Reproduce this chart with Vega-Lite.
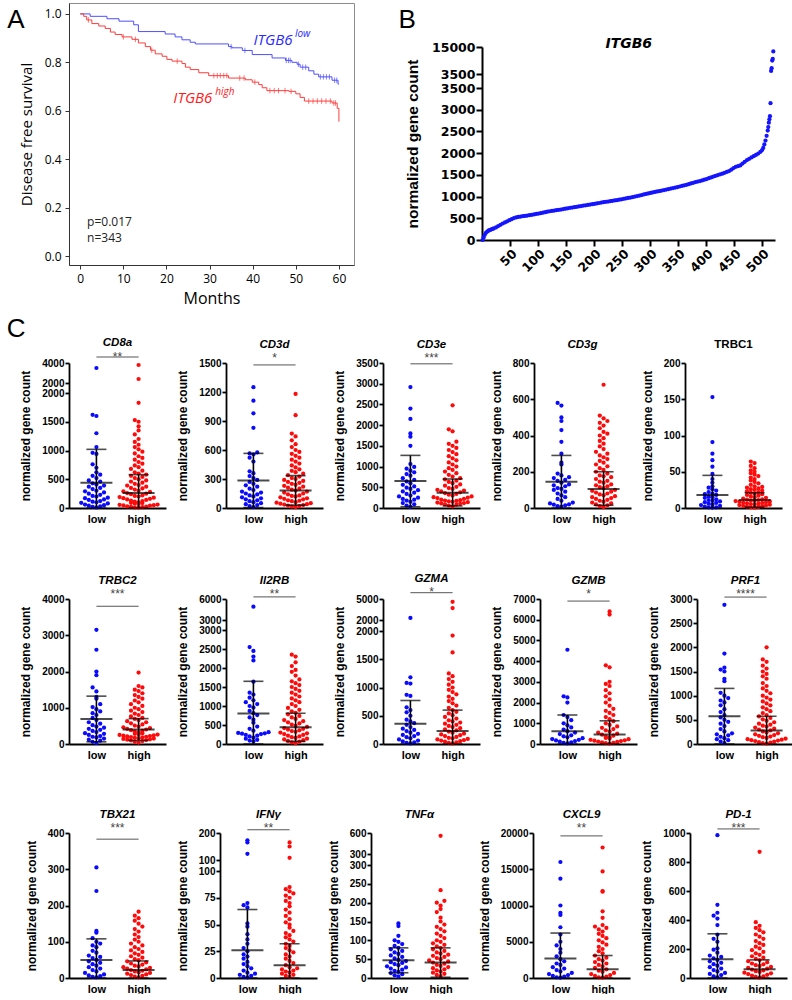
{
"$schema":"https://vega.github.io/schema/vega-lite/v6.json",
"padding":{"left":6,"top":2,"right":0,"bottom":0},
"spacing":8,
"columns":1,
"align":"none",
"config":{
 "font":"Liberation Sans",
 "view":{"stroke":null},
 "numberFormat":"d",
 "legend":{"disable":true},
 "range":{"category":["#ff0a0a","#0a0aff"]},
 "circle":{"size":18,"opacity":1},
 "axis":{"grid":false,"labelOverlap":false,"domainColor":"black","tickColor":"black","labelColor":"black","titleColor":"black","labelFont":"Liberation Sans","titleFont":"Liberation Sans","labelFontWeight":"bold","titleFontWeight":"bold","labelFontSize":10,"titleFontSize":12,"domainWidth":1.8,"tickWidth":1.8,"tickSize":4,"labelPadding":1,"titlePadding":9},
 "axisX":{"ticks":false,"labelFontSize":11,"labelPadding":5,"labelAngle":0},
 "title":{"font":"Liberation Sans","fontSize":11.5,"fontWeight":"bold","fontStyle":"italic","color":"black","subtitleFont":"Liberation Sans","subtitleFontSize":12,"subtitleColor":"#444","subtitleLineHeight":9,"frame":"group","anchor":"middle","offset":-6,"subtitlePadding":3}
},
"datasets":{
 "km":[
  {"g":"l","t":0,"s":1},{"g":"l","t":2.3,"s":0.99},{"g":"l","t":6.2,"s":0.98},{"g":"l","t":9,"s":0.97},{"g":"l","t":12.4,"s":0.955},{"g":"l","t":13.5,"s":0.927},{"g":"l","t":19.7,"s":0.917},{"g":"l","t":22,"s":0.905},{"g":"l","t":23.6,"s":0.893},{"g":"l","t":25.5,"s":0.883},{"g":"l","t":26.7,"s":0.876},{"g":"l","t":34.4,"s":0.865},{"g":"l","t":35.2,"s":0.86},{"g":"l","t":37.6,"s":0.849},{"g":"l","t":39.9,"s":0.832},{"g":"l","t":44.5,"s":0.818},{"g":"l","t":47.6,"s":0.808},{"g":"l","t":49.1,"s":0.8},{"g":"l","t":50.3,"s":0.792},{"g":"l","t":51,"s":0.78},{"g":"l","t":53,"s":0.765},{"g":"l","t":54.2,"s":0.751},{"g":"l","t":55.3,"s":0.74},{"g":"l","t":58.4,"s":0.726},{"g":"l","t":59.8,"s":0.71},{"g":"l","t":60,"s":0.71},
  {"g":"h","t":0,"s":1},{"g":"h","t":0.8,"s":0.99},{"g":"h","t":1.5,"s":0.975},{"g":"h","t":2.7,"s":0.96},{"g":"h","t":4.3,"s":0.95},{"g":"h","t":5.8,"s":0.94},{"g":"h","t":7,"s":0.925},{"g":"h","t":8.1,"s":0.915},{"g":"h","t":9.7,"s":0.905},{"g":"h","t":12,"s":0.895},{"g":"h","t":13.5,"s":0.88},{"g":"h","t":15.1,"s":0.865},{"g":"h","t":16.3,"s":0.85},{"g":"h","t":17.4,"s":0.835},{"g":"h","t":19,"s":0.825},{"g":"h","t":20.1,"s":0.812},{"g":"h","t":21.3,"s":0.805},{"g":"h","t":23.6,"s":0.795},{"g":"h","t":24.4,"s":0.78},{"g":"h","t":25.5,"s":0.77},{"g":"h","t":27.5,"s":0.757},{"g":"h","t":29.8,"s":0.745},{"g":"h","t":34.4,"s":0.735},{"g":"h","t":38.3,"s":0.728},{"g":"h","t":39.9,"s":0.718},{"g":"h","t":41.4,"s":0.708},{"g":"h","t":42.2,"s":0.695},{"g":"h","t":43.3,"s":0.683},{"g":"h","t":48.4,"s":0.68},{"g":"h","t":50,"s":0.67},{"g":"h","t":51,"s":0.655},{"g":"h","t":52,"s":0.64},{"g":"h","t":58.4,"s":0.632},{"g":"h","t":59.6,"s":0.61},{"g":"h","t":60,"s":0.555}
 ],
 "cens":[
  {"g":"l","t":35,"s":0.865},{"g":"l","t":38.2,"s":0.849},{"g":"l","t":47.8,"s":0.808},{"g":"l","t":48.3,"s":0.808},{"g":"l","t":48.7,"s":0.808},{"g":"l","t":50.6,"s":0.792},{"g":"l","t":51.6,"s":0.78},{"g":"l","t":52.3,"s":0.78},{"g":"l","t":55.7,"s":0.74},{"g":"l","t":56.4,"s":0.74},{"g":"l","t":57.1,"s":0.74},{"g":"l","t":57.8,"s":0.74},{"g":"l","t":59,"s":0.726},{"g":"l","t":59.5,"s":0.726},
  {"g":"h","t":1.9,"s":0.975},{"g":"h","t":10,"s":0.905},{"g":"h","t":12.8,"s":0.895},{"g":"h","t":16.6,"s":0.85},{"g":"h","t":22.5,"s":0.805},{"g":"h","t":31,"s":0.745},{"g":"h","t":31.8,"s":0.745},{"g":"h","t":32.5,"s":0.745},{"g":"h","t":33.3,"s":0.745},{"g":"h","t":34,"s":0.745},{"g":"h","t":37,"s":0.735},{"g":"h","t":38,"s":0.735},{"g":"h","t":40.5,"s":0.718},{"g":"h","t":44,"s":0.683},{"g":"h","t":45,"s":0.683},{"g":"h","t":46,"s":0.683},{"g":"h","t":47.5,"s":0.683},{"g":"h","t":48.9,"s":0.68},{"g":"h","t":53,"s":0.64},{"g":"h","t":54,"s":0.64},{"g":"h","t":55,"s":0.64},{"g":"h","t":56,"s":0.64},{"g":"h","t":57,"s":0.64},{"g":"h","t":58,"s":0.64},{"g":"h","t":58.8,"s":0.632},{"g":"h","t":59.2,"s":0.632}
 ],
 "itgb6":[
  {"r":1,"v":0},{"r":3,"v":60},{"r":5,"v":120},{"r":7,"v":165},{"r":9,"v":190},{"r":11,"v":210},{"r":13,"v":225},{"r":15,"v":235},{"r":17,"v":245},{"r":19,"v":255},{"r":21,"v":265},{"r":25,"v":290},{"r":29,"v":320},{"r":33,"v":350},{"r":37,"v":380},{"r":41,"v":405},{"r":45,"v":430},{"r":49,"v":455},{"r":53,"v":480},{"r":57,"v":505},{"r":61,"v":520},{"r":65,"v":530},{"r":69,"v":540},{"r":73,"v":548},{"r":77,"v":555},{"r":81,"v":562},{"r":85,"v":570},{"r":89,"v":580},{"r":93,"v":590},{"r":97,"v":600},{"r":101,"v":610},{"r":105,"v":618},{"r":109,"v":628},{"r":113,"v":640},{"r":117,"v":652},{"r":121,"v":662},{"r":125,"v":670},{"r":129,"v":678},{"r":133,"v":686},{"r":137,"v":694},{"r":141,"v":702},{"r":145,"v":712},{"r":149,"v":722},{"r":153,"v":730},{"r":157,"v":740},{"r":161,"v":748},{"r":165,"v":756},{"r":169,"v":764},{"r":173,"v":772},{"r":177,"v":782},{"r":181,"v":792},{"r":185,"v":800},{"r":189,"v":808},{"r":193,"v":816},{"r":197,"v":824},{"r":201,"v":832},{"r":205,"v":842},{"r":209,"v":852},{"r":213,"v":862},{"r":217,"v":870},{"r":221,"v":878},{"r":225,"v":886},{"r":229,"v":894},{"r":233,"v":902},{"r":237,"v":910},{"r":241,"v":918},{"r":245,"v":928},{"r":249,"v":938},{"r":253,"v":948},{"r":257,"v":958},{"r":261,"v":968},{"r":265,"v":978},{"r":269,"v":988},{"r":273,"v":1000},{"r":277,"v":1012},{"r":281,"v":1024},{"r":285,"v":1036},{"r":289,"v":1048},{"r":293,"v":1060},{"r":297,"v":1072},{"r":301,"v":1084},{"r":305,"v":1096},{"r":309,"v":1108},{"r":313,"v":1118},{"r":317,"v":1128},{"r":321,"v":1138},{"r":325,"v":1150},{"r":329,"v":1160},{"r":333,"v":1172},{"r":337,"v":1184},{"r":341,"v":1196},{"r":345,"v":1208},{"r":349,"v":1220},{"r":353,"v":1232},{"r":357,"v":1244},{"r":361,"v":1258},{"r":365,"v":1272},{"r":369,"v":1286},{"r":373,"v":1302},{"r":377,"v":1318},{"r":381,"v":1334},{"r":385,"v":1346},{"r":389,"v":1358},{"r":393,"v":1372},{"r":397,"v":1388},{"r":401,"v":1404},{"r":405,"v":1422},{"r":409,"v":1442},{"r":413,"v":1460},{"r":417,"v":1478},{"r":421,"v":1494},{"r":425,"v":1512},{"r":429,"v":1528},{"r":433,"v":1546},{"r":437,"v":1566},{"r":441,"v":1588},{"r":445,"v":1620},{"r":449,"v":1656},{"r":453,"v":1684},{"r":457,"v":1700},{"r":461,"v":1716},{"r":465,"v":1760},{"r":469,"v":1800},{"r":473,"v":1840},{"r":477,"v":1870},{"r":481,"v":1900},{"r":485,"v":1930},{"r":489,"v":1960},{"r":493,"v":1990},{"r":497,"v":2030},{"r":500,"v":2070},{"r":502,"v":2120},{"r":504,"v":2200},{"r":506,"v":2290},{"r":508,"v":2400},{"r":510,"v":2520},{"r":511,"v":2600},{"r":512,"v":2700},{"r":513,"v":2780},{"r":514,"v":2850},{"r":515,"v":3150},{"r":516,"v":4800},{"r":517,"v":6000},{"r":518,"v":9200},{"r":519,"v":9900},{"r":520,"v":13100}
 ],
 "S":[
  {"g":"CD8a","c":"l","m":440,"u":1020,"lo":0},{"g":"CD8a","c":"h","m":260,"u":580,"lo":0},
  {"g":"CD3d","c":"l","m":285,"u":565,"lo":5},{"g":"CD3d","c":"h","m":180,"u":335,"lo":30},
  {"g":"CD3e","c":"l","m":650,"u":1270,"lo":30},{"g":"CD3e","c":"h","m":370,"u":700,"lo":50},
  {"g":"CD3g","c":"l","m":145,"u":290,"lo":0},{"g":"CD3g","c":"h","m":105,"u":200,"lo":15},
  {"g":"TRBC1","c":"l","m":18,"u":45,"lo":0},{"g":"TRBC1","c":"h","m":11,"u":21,"lo":1},
  {"g":"TRBC2","c":"l","m":690,"u":1320,"lo":60},{"g":"TRBC2","c":"h","m":400,"u":700,"lo":100},
  {"g":"Il2RB","c":"l","m":800,"u":1650,"lo":0},{"g":"Il2RB","c":"h","m":440,"u":810,"lo":70},
  {"g":"GZMA","c":"l","m":360,"u":770,"lo":0},{"g":"GZMA","c":"h","m":230,"u":600,"lo":0},
  {"g":"GZMB","c":"l","m":620,"u":1400,"lo":0},{"g":"GZMB","c":"h","m":460,"u":1120,"lo":0},
  {"g":"PRF1","c":"l","m":575,"u":1150,"lo":0},{"g":"PRF1","c":"h","m":280,"u":575,"lo":0},
  {"g":"TBX21","c":"l","m":50,"u":108,"lo":0},{"g":"TBX21","c":"h","m":22,"u":47,"lo":0},
  {"g":"IFNg","c":"l","m":26,"u":64,"lo":0},{"g":"IFNg","c":"h","m":12,"u":32,"lo":0},
  {"g":"TNFa","c":"l","m":47,"u":80,"lo":14},{"g":"TNFa","c":"h","m":41,"u":80,"lo":2},
  {"g":"CXCL9","c":"l","m":2700,"u":6200,"lo":0},{"g":"CXCL9","c":"h","m":1200,"u":3100,"lo":0},
  {"g":"PD1","c":"l","m":130,"u":305,"lo":0},{"g":"PD1","c":"h","m":60,"u":125,"lo":0}
 ],
 "CD8a":[{"c":"l","v":3500},{"c":"l","v":1620},{"c":"l","v":1600},{"c":"l","v":1300},{"c":"l","v":1060},{"c":"l","v":960},{"c":"l","v":940},{"c":"l","v":760},{"c":"l","v":700},{"c":"l","v":620},{"c":"l","v":580},{"c":"l","v":560},{"c":"l","v":520},{"c":"l","v":480},{"c":"l","v":460},{"c":"l","v":430},{"c":"l","v":410},{"c":"l","v":390},{"c":"l","v":370},{"c":"l","v":350},{"c":"l","v":330},{"c":"l","v":300},{"c":"l","v":290},{"c":"l","v":270},{"c":"l","v":250},{"c":"l","v":230},{"c":"l","v":210},{"c":"l","v":200},{"c":"l","v":180},{"c":"l","v":170},{"c":"l","v":150},{"c":"l","v":140},{"c":"l","v":120},{"c":"l","v":110},{"c":"l","v":100},{"c":"l","v":90},{"c":"l","v":80},{"c":"l","v":60},{"c":"l","v":50},{"c":"l","v":40},{"c":"l","v":30},{"c":"l","v":20},{"c":"l","v":10},
  {"c":"h","v":3800},{"c":"h","v":2400},{"c":"h","v":1830},{"c":"h","v":1530},{"c":"h","v":1500},{"c":"h","v":1420},{"c":"h","v":1350},{"c":"h","v":1280},{"c":"h","v":1200},{"c":"h","v":1150},{"c":"h","v":1100},{"c":"h","v":1060},{"c":"h","v":1020},{"c":"h","v":980},{"c":"h","v":950},{"c":"h","v":900},{"c":"h","v":870},{"c":"h","v":840},{"c":"h","v":800},{"c":"h","v":770},{"c":"h","v":740},{"c":"h","v":710},{"c":"h","v":680},{"c":"h","v":650},{"c":"h","v":620},{"c":"h","v":600},{"c":"h","v":580},{"c":"h","v":560},{"c":"h","v":540},{"c":"h","v":520},{"c":"h","v":500},{"c":"h","v":480},{"c":"h","v":460},{"c":"h","v":440},{"c":"h","v":420},{"c":"h","v":400},{"c":"h","v":390},{"c":"h","v":370},{"c":"h","v":350},{"c":"h","v":340},{"c":"h","v":320},{"c":"h","v":300},{"c":"h","v":290},{"c":"h","v":280},{"c":"h","v":260},{"c":"h","v":250},{"c":"h","v":240},{"c":"h","v":220},{"c":"h","v":210},{"c":"h","v":200},{"c":"h","v":190},{"c":"h","v":180},{"c":"h","v":170},{"c":"h","v":160},{"c":"h","v":150},{"c":"h","v":140},{"c":"h","v":130},{"c":"h","v":120},{"c":"h","v":110},{"c":"h","v":100},{"c":"h","v":90},{"c":"h","v":85},{"c":"h","v":80},{"c":"h","v":70},{"c":"h","v":60},{"c":"h","v":55},{"c":"h","v":50},{"c":"h","v":45},{"c":"h","v":40},{"c":"h","v":30},{"c":"h","v":25},{"c":"h","v":20},{"c":"h","v":15},{"c":"h","v":10},{"c":"h","v":5}],
 "CD3d":[{"c":"l","v":1250},{"c":"l","v":1110},{"c":"l","v":980},{"c":"l","v":830},{"c":"l","v":575},{"c":"l","v":565},{"c":"l","v":555},{"c":"l","v":520},{"c":"l","v":480},{"c":"l","v":380},{"c":"l","v":360},{"c":"l","v":330},{"c":"l","v":310},{"c":"l","v":290},{"c":"l","v":270},{"c":"l","v":250},{"c":"l","v":235},{"c":"l","v":220},{"c":"l","v":200},{"c":"l","v":185},{"c":"l","v":170},{"c":"l","v":160},{"c":"l","v":150},{"c":"l","v":140},{"c":"l","v":130},{"c":"l","v":120},{"c":"l","v":110},{"c":"l","v":100},{"c":"l","v":90},{"c":"l","v":80},{"c":"l","v":70},{"c":"l","v":60},{"c":"l","v":50},{"c":"l","v":40},{"c":"l","v":30},{"c":"l","v":20},{"c":"l","v":10},
  {"c":"h","v":1180},{"c":"h","v":960},{"c":"h","v":770},{"c":"h","v":740},{"c":"h","v":700},{"c":"h","v":660},{"c":"h","v":630},{"c":"h","v":600},{"c":"h","v":580},{"c":"h","v":560},{"c":"h","v":540},{"c":"h","v":520},{"c":"h","v":500},{"c":"h","v":480},{"c":"h","v":460},{"c":"h","v":440},{"c":"h","v":420},{"c":"h","v":400},{"c":"h","v":385},{"c":"h","v":370},{"c":"h","v":355},{"c":"h","v":340},{"c":"h","v":325},{"c":"h","v":310},{"c":"h","v":300},{"c":"h","v":290},{"c":"h","v":280},{"c":"h","v":270},{"c":"h","v":260},{"c":"h","v":250},{"c":"h","v":240},{"c":"h","v":230},{"c":"h","v":220},{"c":"h","v":210},{"c":"h","v":200},{"c":"h","v":190},{"c":"h","v":180},{"c":"h","v":170},{"c":"h","v":160},{"c":"h","v":150},{"c":"h","v":140},{"c":"h","v":130},{"c":"h","v":125},{"c":"h","v":120},{"c":"h","v":110},{"c":"h","v":100},{"c":"h","v":95},{"c":"h","v":90},{"c":"h","v":80},{"c":"h","v":75},{"c":"h","v":70},{"c":"h","v":60},{"c":"h","v":55},{"c":"h","v":50},{"c":"h","v":45},{"c":"h","v":40},{"c":"h","v":35},{"c":"h","v":30},{"c":"h","v":25},{"c":"h","v":20},{"c":"h","v":15},{"c":"h","v":10}],
 "CD3e":[{"c":"l","v":2920},{"c":"l","v":2400},{"c":"l","v":2150},{"c":"l","v":1800},{"c":"l","v":1720},{"c":"l","v":1500},{"c":"l","v":1060},{"c":"l","v":990},{"c":"l","v":950},{"c":"l","v":900},{"c":"l","v":860},{"c":"l","v":820},{"c":"l","v":780},{"c":"l","v":720},{"c":"l","v":680},{"c":"l","v":640},{"c":"l","v":600},{"c":"l","v":560},{"c":"l","v":520},{"c":"l","v":490},{"c":"l","v":460},{"c":"l","v":430},{"c":"l","v":400},{"c":"l","v":370},{"c":"l","v":340},{"c":"l","v":300},{"c":"l","v":280},{"c":"l","v":250},{"c":"l","v":220},{"c":"l","v":200},{"c":"l","v":180},{"c":"l","v":150},{"c":"l","v":120},{"c":"l","v":90},{"c":"l","v":60},{"c":"l","v":30},
  {"c":"h","v":2480},{"c":"h","v":1900},{"c":"h","v":1850},{"c":"h","v":1600},{"c":"h","v":1550},{"c":"h","v":1500},{"c":"h","v":1450},{"c":"h","v":1400},{"c":"h","v":1350},{"c":"h","v":1300},{"c":"h","v":1250},{"c":"h","v":1200},{"c":"h","v":1150},{"c":"h","v":1100},{"c":"h","v":1050},{"c":"h","v":1000},{"c":"h","v":960},{"c":"h","v":920},{"c":"h","v":880},{"c":"h","v":840},{"c":"h","v":800},{"c":"h","v":760},{"c":"h","v":720},{"c":"h","v":690},{"c":"h","v":660},{"c":"h","v":630},{"c":"h","v":600},{"c":"h","v":570},{"c":"h","v":540},{"c":"h","v":510},{"c":"h","v":480},{"c":"h","v":460},{"c":"h","v":440},{"c":"h","v":420},{"c":"h","v":400},{"c":"h","v":380},{"c":"h","v":360},{"c":"h","v":340},{"c":"h","v":320},{"c":"h","v":300},{"c":"h","v":280},{"c":"h","v":260},{"c":"h","v":250},{"c":"h","v":240},{"c":"h","v":220},{"c":"h","v":200},{"c":"h","v":190},{"c":"h","v":180},{"c":"h","v":170},{"c":"h","v":160},{"c":"h","v":150},{"c":"h","v":140},{"c":"h","v":130},{"c":"h","v":120},{"c":"h","v":110},{"c":"h","v":100},{"c":"h","v":90},{"c":"h","v":80},{"c":"h","v":60},{"c":"h","v":40}],
 "CD3g":[{"c":"l","v":580},{"c":"l","v":565},{"c":"l","v":500},{"c":"l","v":480},{"c":"l","v":430},{"c":"l","v":365},{"c":"l","v":300},{"c":"l","v":250},{"c":"l","v":240},{"c":"l","v":190},{"c":"l","v":180},{"c":"l","v":170},{"c":"l","v":165},{"c":"l","v":155},{"c":"l","v":150},{"c":"l","v":140},{"c":"l","v":130},{"c":"l","v":125},{"c":"l","v":120},{"c":"l","v":110},{"c":"l","v":105},{"c":"l","v":100},{"c":"l","v":90},{"c":"l","v":80},{"c":"l","v":70},{"c":"l","v":60},{"c":"l","v":50},{"c":"l","v":40},{"c":"l","v":30},{"c":"l","v":25},{"c":"l","v":20},{"c":"l","v":18},{"c":"l","v":15},{"c":"l","v":10},{"c":"l","v":8},
  {"c":"h","v":680},{"c":"h","v":510},{"c":"h","v":495},{"c":"h","v":480},{"c":"h","v":470},{"c":"h","v":455},{"c":"h","v":440},{"c":"h","v":420},{"c":"h","v":410},{"c":"h","v":400},{"c":"h","v":385},{"c":"h","v":370},{"c":"h","v":355},{"c":"h","v":340},{"c":"h","v":325},{"c":"h","v":310},{"c":"h","v":300},{"c":"h","v":290},{"c":"h","v":280},{"c":"h","v":270},{"c":"h","v":260},{"c":"h","v":250},{"c":"h","v":240},{"c":"h","v":230},{"c":"h","v":220},{"c":"h","v":210},{"c":"h","v":200},{"c":"h","v":190},{"c":"h","v":180},{"c":"h","v":175},{"c":"h","v":170},{"c":"h","v":160},{"c":"h","v":150},{"c":"h","v":145},{"c":"h","v":140},{"c":"h","v":130},{"c":"h","v":125},{"c":"h","v":120},{"c":"h","v":115},{"c":"h","v":110},{"c":"h","v":100},{"c":"h","v":95},{"c":"h","v":90},{"c":"h","v":85},{"c":"h","v":80},{"c":"h","v":75},{"c":"h","v":70},{"c":"h","v":65},{"c":"h","v":60},{"c":"h","v":55},{"c":"h","v":50},{"c":"h","v":45},{"c":"h","v":40},{"c":"h","v":35},{"c":"h","v":30},{"c":"h","v":25},{"c":"h","v":20},{"c":"h","v":15},{"c":"h","v":10},{"c":"h","v":5}],
 "TRBC1":[{"c":"l","v":153},{"c":"l","v":91},{"c":"l","v":75},{"c":"l","v":66},{"c":"l","v":57},{"c":"l","v":47},{"c":"l","v":40},{"c":"l","v":35},{"c":"l","v":30},{"c":"l","v":28},{"c":"l","v":26},{"c":"l","v":24},{"c":"l","v":22},{"c":"l","v":20},{"c":"l","v":19},{"c":"l","v":18},{"c":"l","v":16},{"c":"l","v":15},{"c":"l","v":14},{"c":"l","v":12},{"c":"l","v":11},{"c":"l","v":10},{"c":"l","v":9},{"c":"l","v":8},{"c":"l","v":7},{"c":"l","v":6},{"c":"l","v":5},{"c":"l","v":4},{"c":"l","v":3},{"c":"l","v":2},{"c":"l","v":1},{"c":"l","v":1},{"c":"l","v":0.5},
  {"c":"h","v":64},{"c":"h","v":62},{"c":"h","v":58},{"c":"h","v":55},{"c":"h","v":52},{"c":"h","v":50},{"c":"h","v":48},{"c":"h","v":46},{"c":"h","v":44},{"c":"h","v":42},{"c":"h","v":40},{"c":"h","v":38},{"c":"h","v":36},{"c":"h","v":34},{"c":"h","v":32},{"c":"h","v":30},{"c":"h","v":29},{"c":"h","v":28},{"c":"h","v":27},{"c":"h","v":26},{"c":"h","v":25},{"c":"h","v":24},{"c":"h","v":23},{"c":"h","v":22},{"c":"h","v":21},{"c":"h","v":20},{"c":"h","v":19},{"c":"h","v":18},{"c":"h","v":17},{"c":"h","v":16},{"c":"h","v":15},{"c":"h","v":14},{"c":"h","v":13},{"c":"h","v":12},{"c":"h","v":11.5},{"c":"h","v":11},{"c":"h","v":10.5},{"c":"h","v":10},{"c":"h","v":9.5},{"c":"h","v":9},{"c":"h","v":8.5},{"c":"h","v":8},{"c":"h","v":7.5},{"c":"h","v":7},{"c":"h","v":6.5},{"c":"h","v":6},{"c":"h","v":5.5},{"c":"h","v":5},{"c":"h","v":4.5},{"c":"h","v":4},{"c":"h","v":3.5},{"c":"h","v":3},{"c":"h","v":2.5},{"c":"h","v":2},{"c":"h","v":1.5},{"c":"h","v":1},{"c":"h","v":0.5}],
 "TRBC2":[{"c":"l","v":3150},{"c":"l","v":2600},{"c":"l","v":2000},{"c":"l","v":1900},{"c":"l","v":1560},{"c":"l","v":1450},{"c":"l","v":1300},{"c":"l","v":1250},{"c":"l","v":1100},{"c":"l","v":1020},{"c":"l","v":960},{"c":"l","v":900},{"c":"l","v":850},{"c":"l","v":800},{"c":"l","v":720},{"c":"l","v":660},{"c":"l","v":600},{"c":"l","v":560},{"c":"l","v":520},{"c":"l","v":480},{"c":"l","v":450},{"c":"l","v":420},{"c":"l","v":390},{"c":"l","v":360},{"c":"l","v":330},{"c":"l","v":300},{"c":"l","v":280},{"c":"l","v":250},{"c":"l","v":220},{"c":"l","v":200},{"c":"l","v":180},{"c":"l","v":150},{"c":"l","v":120},{"c":"l","v":90},{"c":"l","v":60},{"c":"l","v":30},
  {"c":"h","v":1970},{"c":"h","v":1600},{"c":"h","v":1560},{"c":"h","v":1500},{"c":"h","v":1460},{"c":"h","v":1400},{"c":"h","v":1350},{"c":"h","v":1300},{"c":"h","v":1250},{"c":"h","v":1200},{"c":"h","v":1150},{"c":"h","v":1100},{"c":"h","v":1050},{"c":"h","v":1000},{"c":"h","v":960},{"c":"h","v":920},{"c":"h","v":880},{"c":"h","v":840},{"c":"h","v":800},{"c":"h","v":760},{"c":"h","v":720},{"c":"h","v":690},{"c":"h","v":660},{"c":"h","v":630},{"c":"h","v":600},{"c":"h","v":570},{"c":"h","v":540},{"c":"h","v":510},{"c":"h","v":480},{"c":"h","v":460},{"c":"h","v":440},{"c":"h","v":420},{"c":"h","v":400},{"c":"h","v":380},{"c":"h","v":360},{"c":"h","v":340},{"c":"h","v":320},{"c":"h","v":300},{"c":"h","v":280},{"c":"h","v":270},{"c":"h","v":260},{"c":"h","v":250},{"c":"h","v":240},{"c":"h","v":230},{"c":"h","v":220},{"c":"h","v":210},{"c":"h","v":200},{"c":"h","v":190},{"c":"h","v":180},{"c":"h","v":170},{"c":"h","v":160},{"c":"h","v":150},{"c":"h","v":140},{"c":"h","v":130},{"c":"h","v":120},{"c":"h","v":110},{"c":"h","v":100},{"c":"h","v":80},{"c":"h","v":60},{"c":"h","v":40}],
 "Il2RB":[{"c":"l","v":4900},{"c":"l","v":2550},{"c":"l","v":2450},{"c":"l","v":2300},{"c":"l","v":2200},{"c":"l","v":1640},{"c":"l","v":1350},{"c":"l","v":1300},{"c":"l","v":1220},{"c":"l","v":1150},{"c":"l","v":1100},{"c":"l","v":1050},{"c":"l","v":1000},{"c":"l","v":960},{"c":"l","v":870},{"c":"l","v":810},{"c":"l","v":760},{"c":"l","v":700},{"c":"l","v":640},{"c":"l","v":560},{"c":"l","v":460},{"c":"l","v":400},{"c":"l","v":350},{"c":"l","v":310},{"c":"l","v":290},{"c":"l","v":280},{"c":"l","v":270},{"c":"l","v":260},{"c":"l","v":240},{"c":"l","v":220},{"c":"l","v":200},{"c":"l","v":170},{"c":"l","v":140},{"c":"l","v":110},{"c":"l","v":90},{"c":"l","v":70},
  {"c":"h","v":2350},{"c":"h","v":2300},{"c":"h","v":2150},{"c":"h","v":2050},{"c":"h","v":1950},{"c":"h","v":1900},{"c":"h","v":1800},{"c":"h","v":1700},{"c":"h","v":1650},{"c":"h","v":1600},{"c":"h","v":1550},{"c":"h","v":1500},{"c":"h","v":1450},{"c":"h","v":1400},{"c":"h","v":1350},{"c":"h","v":1300},{"c":"h","v":1250},{"c":"h","v":1200},{"c":"h","v":1150},{"c":"h","v":1100},{"c":"h","v":1050},{"c":"h","v":1000},{"c":"h","v":950},{"c":"h","v":900},{"c":"h","v":860},{"c":"h","v":820},{"c":"h","v":780},{"c":"h","v":740},{"c":"h","v":700},{"c":"h","v":660},{"c":"h","v":630},{"c":"h","v":600},{"c":"h","v":570},{"c":"h","v":540},{"c":"h","v":510},{"c":"h","v":480},{"c":"h","v":450},{"c":"h","v":420},{"c":"h","v":400},{"c":"h","v":380},{"c":"h","v":360},{"c":"h","v":340},{"c":"h","v":320},{"c":"h","v":300},{"c":"h","v":280},{"c":"h","v":260},{"c":"h","v":240},{"c":"h","v":220},{"c":"h","v":200},{"c":"h","v":180},{"c":"h","v":160},{"c":"h","v":140},{"c":"h","v":120},{"c":"h","v":100},{"c":"h","v":80},{"c":"h","v":60},{"c":"h","v":40},{"c":"h","v":20}],
 "GZMA":[{"c":"l","v":2300},{"c":"l","v":1180},{"c":"l","v":1080},{"c":"l","v":1070},{"c":"l","v":870},{"c":"l","v":850},{"c":"l","v":650},{"c":"l","v":600},{"c":"l","v":560},{"c":"l","v":500},{"c":"l","v":430},{"c":"l","v":400},{"c":"l","v":370},{"c":"l","v":340},{"c":"l","v":300},{"c":"l","v":270},{"c":"l","v":250},{"c":"l","v":230},{"c":"l","v":200},{"c":"l","v":180},{"c":"l","v":160},{"c":"l","v":140},{"c":"l","v":120},{"c":"l","v":100},{"c":"l","v":80},{"c":"l","v":60},{"c":"l","v":45},{"c":"l","v":30},{"c":"l","v":20},{"c":"l","v":10},
  {"c":"h","v":4600},{"c":"h","v":3700},{"c":"h","v":1920},{"c":"h","v":1620},{"c":"h","v":1250},{"c":"h","v":1200},{"c":"h","v":1150},{"c":"h","v":1100},{"c":"h","v":1050},{"c":"h","v":1000},{"c":"h","v":960},{"c":"h","v":920},{"c":"h","v":880},{"c":"h","v":840},{"c":"h","v":800},{"c":"h","v":760},{"c":"h","v":720},{"c":"h","v":680},{"c":"h","v":640},{"c":"h","v":600},{"c":"h","v":570},{"c":"h","v":540},{"c":"h","v":510},{"c":"h","v":480},{"c":"h","v":450},{"c":"h","v":420},{"c":"h","v":400},{"c":"h","v":380},{"c":"h","v":360},{"c":"h","v":340},{"c":"h","v":320},{"c":"h","v":300},{"c":"h","v":280},{"c":"h","v":260},{"c":"h","v":240},{"c":"h","v":220},{"c":"h","v":200},{"c":"h","v":185},{"c":"h","v":170},{"c":"h","v":155},{"c":"h","v":140},{"c":"h","v":125},{"c":"h","v":110},{"c":"h","v":100},{"c":"h","v":90},{"c":"h","v":80},{"c":"h","v":70},{"c":"h","v":60},{"c":"h","v":50},{"c":"h","v":40},{"c":"h","v":30},{"c":"h","v":20},{"c":"h","v":10}],
 "GZMB":[{"c":"l","v":4550},{"c":"l","v":2300},{"c":"l","v":2250},{"c":"l","v":2000},{"c":"l","v":1400},{"c":"l","v":1300},{"c":"l","v":1150},{"c":"l","v":1000},{"c":"l","v":900},{"c":"l","v":800},{"c":"l","v":700},{"c":"l","v":620},{"c":"l","v":550},{"c":"l","v":480},{"c":"l","v":420},{"c":"l","v":370},{"c":"l","v":320},{"c":"l","v":280},{"c":"l","v":240},{"c":"l","v":200},{"c":"l","v":170},{"c":"l","v":140},{"c":"l","v":110},{"c":"l","v":80},{"c":"l","v":50},{"c":"l","v":30},
  {"c":"h","v":6400},{"c":"h","v":6250},{"c":"h","v":3800},{"c":"h","v":3700},{"c":"h","v":3000},{"c":"h","v":2900},{"c":"h","v":2800},{"c":"h","v":2600},{"c":"h","v":2450},{"c":"h","v":2300},{"c":"h","v":2150},{"c":"h","v":2000},{"c":"h","v":1850},{"c":"h","v":1700},{"c":"h","v":1600},{"c":"h","v":1500},{"c":"h","v":1400},{"c":"h","v":1300},{"c":"h","v":1200},{"c":"h","v":1100},{"c":"h","v":1000},{"c":"h","v":920},{"c":"h","v":850},{"c":"h","v":780},{"c":"h","v":720},{"c":"h","v":660},{"c":"h","v":600},{"c":"h","v":550},{"c":"h","v":500},{"c":"h","v":450},{"c":"h","v":400},{"c":"h","v":360},{"c":"h","v":320},{"c":"h","v":290},{"c":"h","v":260},{"c":"h","v":230},{"c":"h","v":200},{"c":"h","v":180},{"c":"h","v":160},{"c":"h","v":140},{"c":"h","v":120},{"c":"h","v":100},{"c":"h","v":80},{"c":"h","v":60},{"c":"h","v":40},{"c":"h","v":20}],
 "PRF1":[{"c":"l","v":2880},{"c":"l","v":1870},{"c":"l","v":1580},{"c":"l","v":1540},{"c":"l","v":1500},{"c":"l","v":1350},{"c":"l","v":1300},{"c":"l","v":1060},{"c":"l","v":1000},{"c":"l","v":950},{"c":"l","v":900},{"c":"l","v":860},{"c":"l","v":800},{"c":"l","v":720},{"c":"l","v":660},{"c":"l","v":600},{"c":"l","v":550},{"c":"l","v":500},{"c":"l","v":460},{"c":"l","v":420},{"c":"l","v":370},{"c":"l","v":310},{"c":"l","v":260},{"c":"l","v":220},{"c":"l","v":200},{"c":"l","v":180},{"c":"l","v":150},{"c":"l","v":120},{"c":"l","v":100},{"c":"l","v":80},{"c":"l","v":50},{"c":"l","v":20},
  {"c":"h","v":2000},{"c":"h","v":1750},{"c":"h","v":1700},{"c":"h","v":1620},{"c":"h","v":1560},{"c":"h","v":1500},{"c":"h","v":1450},{"c":"h","v":1400},{"c":"h","v":1350},{"c":"h","v":1260},{"c":"h","v":1200},{"c":"h","v":1150},{"c":"h","v":1100},{"c":"h","v":1050},{"c":"h","v":1000},{"c":"h","v":960},{"c":"h","v":920},{"c":"h","v":880},{"c":"h","v":840},{"c":"h","v":800},{"c":"h","v":760},{"c":"h","v":720},{"c":"h","v":680},{"c":"h","v":640},{"c":"h","v":600},{"c":"h","v":570},{"c":"h","v":540},{"c":"h","v":510},{"c":"h","v":480},{"c":"h","v":450},{"c":"h","v":420},{"c":"h","v":400},{"c":"h","v":380},{"c":"h","v":360},{"c":"h","v":340},{"c":"h","v":320},{"c":"h","v":300},{"c":"h","v":280},{"c":"h","v":260},{"c":"h","v":240},{"c":"h","v":220},{"c":"h","v":200},{"c":"h","v":185},{"c":"h","v":170},{"c":"h","v":155},{"c":"h","v":140},{"c":"h","v":125},{"c":"h","v":110},{"c":"h","v":100},{"c":"h","v":90},{"c":"h","v":80},{"c":"h","v":70},{"c":"h","v":60},{"c":"h","v":50},{"c":"h","v":40},{"c":"h","v":30},{"c":"h","v":20},{"c":"h","v":10}],
 "TBX21":[{"c":"l","v":305},{"c":"l","v":240},{"c":"l","v":130},{"c":"l","v":125},{"c":"l","v":110},{"c":"l","v":100},{"c":"l","v":95},{"c":"l","v":90},{"c":"l","v":85},{"c":"l","v":75},{"c":"l","v":70},{"c":"l","v":62},{"c":"l","v":58},{"c":"l","v":55},{"c":"l","v":50},{"c":"l","v":46},{"c":"l","v":42},{"c":"l","v":38},{"c":"l","v":34},{"c":"l","v":30},{"c":"l","v":26},{"c":"l","v":22},{"c":"l","v":18},{"c":"l","v":14},{"c":"l","v":10},{"c":"l","v":7},{"c":"l","v":5},{"c":"l","v":3},{"c":"l","v":2},
  {"c":"h","v":183},{"c":"h","v":172},{"c":"h","v":165},{"c":"h","v":158},{"c":"h","v":150},{"c":"h","v":142},{"c":"h","v":135},{"c":"h","v":128},{"c":"h","v":120},{"c":"h","v":113},{"c":"h","v":106},{"c":"h","v":100},{"c":"h","v":95},{"c":"h","v":90},{"c":"h","v":85},{"c":"h","v":80},{"c":"h","v":76},{"c":"h","v":72},{"c":"h","v":68},{"c":"h","v":64},{"c":"h","v":60},{"c":"h","v":56},{"c":"h","v":52},{"c":"h","v":49},{"c":"h","v":46},{"c":"h","v":43},{"c":"h","v":40},{"c":"h","v":37},{"c":"h","v":34},{"c":"h","v":32},{"c":"h","v":30},{"c":"h","v":28},{"c":"h","v":26},{"c":"h","v":24},{"c":"h","v":22},{"c":"h","v":20},{"c":"h","v":18},{"c":"h","v":16},{"c":"h","v":14},{"c":"h","v":12},{"c":"h","v":10},{"c":"h","v":8},{"c":"h","v":6},{"c":"h","v":4},{"c":"h","v":2}],
 "IFNg":[{"c":"l","v":173},{"c":"l","v":165},{"c":"l","v":123},{"c":"l","v":70},{"c":"l","v":68},{"c":"l","v":66},{"c":"l","v":51},{"c":"l","v":48},{"c":"l","v":41},{"c":"l","v":36},{"c":"l","v":32},{"c":"l","v":28},{"c":"l","v":25},{"c":"l","v":22},{"c":"l","v":20},{"c":"l","v":18},{"c":"l","v":15},{"c":"l","v":13},{"c":"l","v":11},{"c":"l","v":9},{"c":"l","v":7},{"c":"l","v":5},{"c":"l","v":4},{"c":"l","v":3},{"c":"l","v":2},{"c":"l","v":1},{"c":"l","v":0.5},
  {"c":"h","v":165},{"c":"h","v":150},{"c":"h","v":108},{"c":"h","v":85},{"c":"h","v":83},{"c":"h","v":81},{"c":"h","v":79},{"c":"h","v":77},{"c":"h","v":75},{"c":"h","v":72},{"c":"h","v":70},{"c":"h","v":67},{"c":"h","v":64},{"c":"h","v":61},{"c":"h","v":58},{"c":"h","v":55},{"c":"h","v":52},{"c":"h","v":50},{"c":"h","v":47},{"c":"h","v":44},{"c":"h","v":42},{"c":"h","v":40},{"c":"h","v":38},{"c":"h","v":36},{"c":"h","v":34},{"c":"h","v":32},{"c":"h","v":30},{"c":"h","v":28},{"c":"h","v":26},{"c":"h","v":24},{"c":"h","v":22},{"c":"h","v":20},{"c":"h","v":18},{"c":"h","v":16},{"c":"h","v":14},{"c":"h","v":12},{"c":"h","v":10},{"c":"h","v":9},{"c":"h","v":8},{"c":"h","v":7},{"c":"h","v":6},{"c":"h","v":5},{"c":"h","v":4},{"c":"h","v":3},{"c":"h","v":2},{"c":"h","v":1}],
 "TNFa":[{"c":"l","v":145},{"c":"l","v":138},{"c":"l","v":112},{"c":"l","v":100},{"c":"l","v":96},{"c":"l","v":90},{"c":"l","v":85},{"c":"l","v":80},{"c":"l","v":76},{"c":"l","v":72},{"c":"l","v":68},{"c":"l","v":64},{"c":"l","v":60},{"c":"l","v":56},{"c":"l","v":52},{"c":"l","v":48},{"c":"l","v":45},{"c":"l","v":42},{"c":"l","v":40},{"c":"l","v":37},{"c":"l","v":34},{"c":"l","v":31},{"c":"l","v":28},{"c":"l","v":25},{"c":"l","v":22},{"c":"l","v":19},{"c":"l","v":16},{"c":"l","v":13},{"c":"l","v":10},{"c":"l","v":7},{"c":"l","v":4},
  {"c":"h","v":560},{"c":"h","v":233},{"c":"h","v":205},{"c":"h","v":200},{"c":"h","v":192},{"c":"h","v":183},{"c":"h","v":175},{"c":"h","v":160},{"c":"h","v":150},{"c":"h","v":142},{"c":"h","v":136},{"c":"h","v":130},{"c":"h","v":124},{"c":"h","v":118},{"c":"h","v":112},{"c":"h","v":106},{"c":"h","v":100},{"c":"h","v":96},{"c":"h","v":92},{"c":"h","v":88},{"c":"h","v":84},{"c":"h","v":80},{"c":"h","v":76},{"c":"h","v":72},{"c":"h","v":68},{"c":"h","v":65},{"c":"h","v":62},{"c":"h","v":59},{"c":"h","v":56},{"c":"h","v":53},{"c":"h","v":50},{"c":"h","v":47},{"c":"h","v":44},{"c":"h","v":41},{"c":"h","v":38},{"c":"h","v":35},{"c":"h","v":32},{"c":"h","v":29},{"c":"h","v":26},{"c":"h","v":23},{"c":"h","v":20},{"c":"h","v":17},{"c":"h","v":14},{"c":"h","v":11},{"c":"h","v":8},{"c":"h","v":5}],
 "CXCL9":[{"c":"l","v":16000},{"c":"l","v":13700},{"c":"l","v":10000},{"c":"l","v":9000},{"c":"l","v":8700},{"c":"l","v":7000},{"c":"l","v":6000},{"c":"l","v":5000},{"c":"l","v":4500},{"c":"l","v":4000},{"c":"l","v":3500},{"c":"l","v":3000},{"c":"l","v":2600},{"c":"l","v":2300},{"c":"l","v":2000},{"c":"l","v":1800},{"c":"l","v":1500},{"c":"l","v":1300},{"c":"l","v":1100},{"c":"l","v":900},{"c":"l","v":700},{"c":"l","v":550},{"c":"l","v":400},{"c":"l","v":300},{"c":"l","v":200},{"c":"l","v":100},{"c":"l","v":50},
  {"c":"h","v":18000},{"c":"h","v":14700},{"c":"h","v":12000},{"c":"h","v":11900},{"c":"h","v":9200},{"c":"h","v":8300},{"c":"h","v":7300},{"c":"h","v":7100},{"c":"h","v":6900},{"c":"h","v":6700},{"c":"h","v":6400},{"c":"h","v":6100},{"c":"h","v":5800},{"c":"h","v":5500},{"c":"h","v":5200},{"c":"h","v":4900},{"c":"h","v":4600},{"c":"h","v":4300},{"c":"h","v":4000},{"c":"h","v":3700},{"c":"h","v":3400},{"c":"h","v":3100},{"c":"h","v":2800},{"c":"h","v":2600},{"c":"h","v":2400},{"c":"h","v":2200},{"c":"h","v":2000},{"c":"h","v":1800},{"c":"h","v":1600},{"c":"h","v":1400},{"c":"h","v":1200},{"c":"h","v":1000},{"c":"h","v":850},{"c":"h","v":700},{"c":"h","v":550},{"c":"h","v":400},{"c":"h","v":300},{"c":"h","v":200},{"c":"h","v":100},{"c":"h","v":50}],
 "PD1":[{"c":"l","v":985},{"c":"l","v":505},{"c":"l","v":450},{"c":"l","v":430},{"c":"l","v":410},{"c":"l","v":365},{"c":"l","v":300},{"c":"l","v":270},{"c":"l","v":250},{"c":"l","v":205},{"c":"l","v":195},{"c":"l","v":175},{"c":"l","v":155},{"c":"l","v":145},{"c":"l","v":135},{"c":"l","v":125},{"c":"l","v":115},{"c":"l","v":105},{"c":"l","v":95},{"c":"l","v":85},{"c":"l","v":75},{"c":"l","v":65},{"c":"l","v":55},{"c":"l","v":45},{"c":"l","v":35},{"c":"l","v":28},{"c":"l","v":20},{"c":"l","v":12},{"c":"l","v":5},
  {"c":"h","v":870},{"c":"h","v":385},{"c":"h","v":360},{"c":"h","v":345},{"c":"h","v":330},{"c":"h","v":315},{"c":"h","v":300},{"c":"h","v":285},{"c":"h","v":270},{"c":"h","v":255},{"c":"h","v":240},{"c":"h","v":228},{"c":"h","v":216},{"c":"h","v":204},{"c":"h","v":192},{"c":"h","v":180},{"c":"h","v":170},{"c":"h","v":160},{"c":"h","v":150},{"c":"h","v":140},{"c":"h","v":132},{"c":"h","v":124},{"c":"h","v":116},{"c":"h","v":108},{"c":"h","v":100},{"c":"h","v":94},{"c":"h","v":88},{"c":"h","v":82},{"c":"h","v":76},{"c":"h","v":70},{"c":"h","v":64},{"c":"h","v":58},{"c":"h","v":52},{"c":"h","v":47},{"c":"h","v":42},{"c":"h","v":37},{"c":"h","v":32},{"c":"h","v":27},{"c":"h","v":22},{"c":"h","v":17},{"c":"h","v":12},{"c":"h","v":7},{"c":"h","v":2}]
},
"concat":[
 {"hconcat":[
  {"width":285,"height":262,
   "title":{"text":"A","anchor":"start","frame":"bounds","fontSize":26,"fontWeight":"normal","fontStyle":"normal","offset":-30,"dx":-12},
   "view":{"stroke":"#8c8c8c"},
   "resolve":{"axis":{"x":"independent","y":"independent"}},
   "layer":[
    {"data":{"name":"km"},"transform":[{"filter":"datum.g=='l'"}],"mark":{"type":"line","interpolate":"step-after","color":"#4f4fff","strokeWidth":1},"encoding":{
     "x":{"field":"t","type":"quantitative","scale":{"domain":[-2.6,63.5],"nice":false,"zero":false},"axis":{"values":[0,10,20,30,40,50,60],"labelOverlap":false,"title":"Months","ticks":true,"tickSize":4,"tickWidth":1,"domainWidth":1,"domainColor":"#333","tickColor":"#333","labelFont":"Open Sans","titleFont":"Open Sans","labelFontWeight":"normal","titleFontWeight":"normal","labelFontSize":12,"titleFontSize":16,"labelPadding":4,"titlePadding":6}},
     "y":{"field":"s","type":"quantitative","scale":{"domain":[-0.037,1.045],"nice":false,"zero":false},"axis":{"values":[0,0.2,0.4,0.6,0.8,1],"labelOverlap":false,"format":".1f","title":"Disease free survival","tickSize":4,"tickWidth":1,"domainWidth":1,"domainColor":"#333","tickColor":"#333","labelFont":"Open Sans","titleFont":"Open Sans","labelFontWeight":"normal","titleFontWeight":"normal","labelFontSize":12,"titleFontSize":15,"labelPadding":4,"titlePadding":10}}}},
    {"data":{"name":"km"},"transform":[{"filter":"datum.g=='h'"}],"mark":{"type":"line","interpolate":"step-after","color":"#ff3d3d","strokeWidth":1},"encoding":{"x":{"field":"t","type":"quantitative","axis":null},"y":{"field":"s","type":"quantitative","axis":null}}},
    {"data":{"name":"cens"},"transform":[{"filter":"datum.g=='l'"}],"mark":{"type":"point","shape":"M0,-1L0,1","size":30,"color":"#4f4fff","strokeWidth":1},"encoding":{"x":{"field":"t","type":"quantitative","axis":null},"y":{"field":"s","type":"quantitative","axis":null}}},
    {"data":{"name":"cens"},"transform":[{"filter":"datum.g=='h'"}],"mark":{"type":"point","shape":"M0,-1L0,1","size":30,"color":"#ff3d3d","strokeWidth":1},"encoding":{"x":{"field":"t","type":"quantitative","axis":null},"y":{"field":"s","type":"quantitative","axis":null}}},
    {"data":{"values":[{}]},"mark":{"type":"text","text":"ITGB6","font":"Open Sans","fontStyle":"italic","fontSize":15,"color":"#2a2aff","align":"left","baseline":"middle"},"encoding":{"x":{"datum":40.2,"axis":null},"y":{"datum":0.893,"axis":null}}},
    {"data":{"values":[{}]},"mark":{"type":"text","text":"low","font":"Open Sans","fontStyle":"italic","fontSize":10,"color":"#2a2aff","align":"left","baseline":"middle"},"encoding":{"x":{"datum":49.8,"axis":null},"y":{"datum":0.917,"axis":null}}},
    {"data":{"values":[{}]},"mark":{"type":"text","text":"ITGB6","font":"Open Sans","fontStyle":"italic","fontSize":15,"color":"#ff1a1a","align":"left","baseline":"middle"},"encoding":{"x":{"datum":21.6,"axis":null},"y":{"datum":0.654,"axis":null}}},
    {"data":{"values":[{}]},"mark":{"type":"text","text":"high","font":"Open Sans","fontStyle":"italic","fontSize":10,"color":"#ff1a1a","align":"left","baseline":"middle"},"encoding":{"x":{"datum":31.3,"axis":null},"y":{"datum":0.678,"axis":null}}},
    {"data":{"values":[{}]},"mark":{"type":"text","text":"p=0.017","font":"Open Sans","fontSize":12,"color":"#222","align":"left","baseline":"middle"},"encoding":{"x":{"datum":1.6,"axis":null},"y":{"datum":0.14,"axis":null}}},
    {"data":{"values":[{}]},"mark":{"type":"text","text":"n=343","font":"Open Sans","fontSize":12,"color":"#222","align":"left","baseline":"middle"},"encoding":{"x":{"datum":1.6,"axis":null},"y":{"datum":0.074,"axis":null}}}
   ]},
  {"width":293,"height":237,
   "title":{"text":"B","anchor":"start","frame":"bounds","fontSize":26,"fontWeight":"normal","fontStyle":"normal","offset":-30,"dx":-7},
   "resolve":{"axis":{"x":"independent","y":"independent"}},
   "layer":[
    {"data":{"name":"itgb6"},"mark":{"type":"circle","size":18,"color":"#1414ff","opacity":1},
     "encoding":{
      "x":{"field":"r","type":"quantitative","scale":{"domain":[0,523],"nice":false,"zero":false},"axis":{"values":[50,100,150,200,250,300,350,400,450,500],"labelOverlap":false,"labelAngle":-45,"title":null,"ticks":true,"tickSize":6,"tickWidth":2,"domainWidth":2,"labelFont":"DejaVu Sans","labelFontSize":12.5,"labelPadding":1}},
      "y":{"field":"v","type":"quantitative","scale":{"domain":[0,3500,3500.001,15000],"range":[237,85,71,44],"nice":false,"zero":false},"axis":{"values":[0,500,1000,1500,2000,2500,3000,3500,3500.001,15000],"labelOverlap":false,"title":"normalized gene count","titleFontSize":15.5,"labelFont":"DejaVu Sans","labelFontSize":12.5,"tickSize":6,"tickWidth":2,"domainWidth":2,"labelPadding":1,"titlePadding":11}}}},
    {"data":{"values":[{}]},"mark":{"type":"text","text":"ITGB6","font":"DejaVu Sans","fontWeight":"bold","fontStyle":"italic","fontSize":14,"align":"center","baseline":"middle","color":"black"},"encoding":{"x":{"datum":262,"axis":null},"y":{"datum":16400,"axis":null}}}
   ]}
 ],"spacing":43},
 {"vconcat":[
  {"title":{"text":"C","anchor":"start","frame":"bounds","fontSize":26,"fontWeight":"normal","fontStyle":"normal","offset":-5,"dx":-13},
   "hconcat":[
    {"width":97,"height":145,"title":{"text":"CD8a","subtitle":"**"},"resolve":{"axis":{"x":"independent","y":"independent"}},"layer":[
     {"data":{"name":"CD8a"},"transform":[{"bin":{"step":100},"field":"v","as":"b"},{"window":[{"op":"row_number","as":"k"}],"groupby":["c","b"],"sort":[{"field":"v"}]},{"calculate":"(((datum.k-1)%11+1)%2?1:-1)*floor(((datum.k-1)%11+1)/2)","as":"o"}],"mark":"circle","encoding":{"x":{"field":"c","type":"nominal","scale":{"type":"point","domain":["l","h"],"padding":0.65},"axis":{"labelExpr":"datum.value=='l'?'low':'high'","title":null}},"xOffset":{"field":"o","type":"quantitative","scale":{"domain":[-1,1],"range":[-3.8,3.8]}},"y":{"field":"v","type":"quantitative","scale":{"domain":[0,2000,2000.001,4000],"range":[145,30,20,0],"nice":false,"zero":false},"axis":{"title":"normalized gene count","labelOverlap":false,"values":[0,500,1000,1500,2000,2000.001,4000]}},"color":{"field":"c","type":"nominal"}}},
     {"data":{"name":"S"},"transform":[{"filter":"datum.g=='CD8a'"}],"layer":[
      {"mark":{"type":"errorbar","ticks":true,"size":20,"thickness":1.6,"color":"black"},"encoding":{"x":{"field":"c","type":"nominal","axis":null},"y":{"field":"lo","type":"quantitative","axis":null},"y2":{"field":"u"}}},
      {"mark":{"type":"tick","size":32,"thickness":2,"color":"black"},"encoding":{"x":{"field":"c","type":"nominal","axis":null},"y":{"field":"m","type":"quantitative","axis":null}}}]},
     {"data":{"values":[{}]},"mark":{"type":"rule","color":"#555","strokeWidth":1},"encoding":{"x":{"datum":"l","axis":null},"x2":{"datum":"h"},"y":{"datum":4600,"axis":null}}}]},
    {"width":97,"height":145,"title":{"text":"CD3d","subtitle":"*"},"resolve":{"axis":{"x":"independent","y":"independent"}},"layer":[
     {"data":{"name":"CD3d"},"transform":[{"bin":{"step":60},"field":"v","as":"b"},{"window":[{"op":"row_number","as":"k"}],"groupby":["c","b"],"sort":[{"field":"v"}]},{"calculate":"(((datum.k-1)%11+1)%2?1:-1)*floor(((datum.k-1)%11+1)/2)","as":"o"}],"mark":"circle","encoding":{"x":{"field":"c","type":"nominal","scale":{"type":"point","domain":["l","h"],"padding":0.65},"axis":{"labelExpr":"datum.value=='l'?'low':'high'","title":null}},"xOffset":{"field":"o","type":"quantitative","scale":{"domain":[-1,1],"range":[-3.8,3.8]}},"y":{"field":"v","type":"quantitative","scale":{"domain":[0,1500],"nice":false,"zero":false},"axis":{"title":"normalized gene count","labelOverlap":false,"values":[0,300,600,900,1200,1500]}},"color":{"field":"c","type":"nominal"}}},
     {"data":{"name":"S"},"transform":[{"filter":"datum.g=='CD3d'"}],"layer":[
      {"mark":{"type":"errorbar","ticks":true,"size":20,"thickness":1.6,"color":"black"},"encoding":{"x":{"field":"c","type":"nominal","axis":null},"y":{"field":"lo","type":"quantitative","axis":null},"y2":{"field":"u"}}},
      {"mark":{"type":"tick","size":32,"thickness":2,"color":"black"},"encoding":{"x":{"field":"c","type":"nominal","axis":null},"y":{"field":"m","type":"quantitative","axis":null}}}]},
     {"data":{"values":[{}]},"mark":{"type":"rule","color":"#555","strokeWidth":1},"encoding":{"x":{"datum":"l","axis":null},"x2":{"datum":"h"},"y":{"datum":1480,"axis":null}}}]},
    {"width":97,"height":145,"title":{"text":"CD3e","subtitle":"***"},"resolve":{"axis":{"x":"independent","y":"independent"}},"layer":[
     {"data":{"name":"CD3e"},"transform":[{"bin":{"step":150},"field":"v","as":"b"},{"window":[{"op":"row_number","as":"k"}],"groupby":["c","b"],"sort":[{"field":"v"}]},{"calculate":"(((datum.k-1)%11+1)%2?1:-1)*floor(((datum.k-1)%11+1)/2)","as":"o"}],"mark":"circle","encoding":{"x":{"field":"c","type":"nominal","scale":{"type":"point","domain":["l","h"],"padding":0.65},"axis":{"labelExpr":"datum.value=='l'?'low':'high'","title":null}},"xOffset":{"field":"o","type":"quantitative","scale":{"domain":[-1,1],"range":[-3.8,3.8]}},"y":{"field":"v","type":"quantitative","scale":{"domain":[0,3500],"nice":false,"zero":false},"axis":{"title":"normalized gene count","labelOverlap":false,"values":[0,500,1000,1500,2000,2500,3000,3500]}},"color":{"field":"c","type":"nominal"}}},
     {"data":{"name":"S"},"transform":[{"filter":"datum.g=='CD3e'"}],"layer":[
      {"mark":{"type":"errorbar","ticks":true,"size":20,"thickness":1.6,"color":"black"},"encoding":{"x":{"field":"c","type":"nominal","axis":null},"y":{"field":"lo","type":"quantitative","axis":null},"y2":{"field":"u"}}},
      {"mark":{"type":"tick","size":32,"thickness":2,"color":"black"},"encoding":{"x":{"field":"c","type":"nominal","axis":null},"y":{"field":"m","type":"quantitative","axis":null}}}]},
     {"data":{"values":[{}]},"mark":{"type":"rule","color":"#555","strokeWidth":1},"encoding":{"x":{"datum":"l","axis":null},"x2":{"datum":"h"},"y":{"datum":3480,"axis":null}}}]},
    {"width":97,"height":145,"title":{"text":"CD3g","subtitle":" "},"resolve":{"axis":{"x":"independent","y":"independent"}},"layer":[
     {"data":{"name":"CD3g"},"transform":[{"bin":{"step":35},"field":"v","as":"b"},{"window":[{"op":"row_number","as":"k"}],"groupby":["c","b"],"sort":[{"field":"v"}]},{"calculate":"(((datum.k-1)%11+1)%2?1:-1)*floor(((datum.k-1)%11+1)/2)","as":"o"}],"mark":"circle","encoding":{"x":{"field":"c","type":"nominal","scale":{"type":"point","domain":["l","h"],"padding":0.65},"axis":{"labelExpr":"datum.value=='l'?'low':'high'","title":null}},"xOffset":{"field":"o","type":"quantitative","scale":{"domain":[-1,1],"range":[-3.8,3.8]}},"y":{"field":"v","type":"quantitative","scale":{"domain":[0,800],"nice":false,"zero":false},"axis":{"title":"normalized gene count","labelOverlap":false,"values":[0,200,400,600,800]}},"color":{"field":"c","type":"nominal"}}},
     {"data":{"name":"S"},"transform":[{"filter":"datum.g=='CD3g'"}],"layer":[
      {"mark":{"type":"errorbar","ticks":true,"size":20,"thickness":1.6,"color":"black"},"encoding":{"x":{"field":"c","type":"nominal","axis":null},"y":{"field":"lo","type":"quantitative","axis":null},"y2":{"field":"u"}}},
      {"mark":{"type":"tick","size":32,"thickness":2,"color":"black"},"encoding":{"x":{"field":"c","type":"nominal","axis":null},"y":{"field":"m","type":"quantitative","axis":null}}}]}]},
    {"width":97,"height":145,"title":{"text":"TRBC1","subtitle":" ","fontStyle":"normal"},"resolve":{"axis":{"x":"independent","y":"independent"}},"layer":[
     {"data":{"name":"TRBC1"},"transform":[{"bin":{"step":5},"field":"v","as":"b"},{"window":[{"op":"row_number","as":"k"}],"groupby":["c","b"],"sort":[{"field":"v"}]},{"calculate":"(((datum.k-1)%11+1)%2?1:-1)*floor(((datum.k-1)%11+1)/2)","as":"o"}],"mark":"circle","encoding":{"x":{"field":"c","type":"nominal","scale":{"type":"point","domain":["l","h"],"padding":0.65},"axis":{"labelExpr":"datum.value=='l'?'low':'high'","title":null}},"xOffset":{"field":"o","type":"quantitative","scale":{"domain":[-1,1],"range":[-3.8,3.8]}},"y":{"field":"v","type":"quantitative","scale":{"domain":[0,200],"nice":false,"zero":false},"axis":{"title":"normalized gene count","labelOverlap":false,"values":[0,50,100,150,200]}},"color":{"field":"c","type":"nominal"}}},
     {"data":{"name":"S"},"transform":[{"filter":"datum.g=='TRBC1'"}],"layer":[
      {"mark":{"type":"errorbar","ticks":true,"size":20,"thickness":1.6,"color":"black"},"encoding":{"x":{"field":"c","type":"nominal","axis":null},"y":{"field":"lo","type":"quantitative","axis":null},"y2":{"field":"u"}}},
      {"mark":{"type":"tick","size":32,"thickness":2,"color":"black"},"encoding":{"x":{"field":"c","type":"nominal","axis":null},"y":{"field":"m","type":"quantitative","axis":null}}}]}]}
   ],"spacing":10},
  {"hconcat":[
    {"width":97,"height":145,"title":{"text":"TRBC2","subtitle":"***"},"resolve":{"axis":{"x":"independent","y":"independent"}},"layer":[
     {"data":{"name":"TRBC2"},"transform":[{"bin":{"step":160},"field":"v","as":"b"},{"window":[{"op":"row_number","as":"k"}],"groupby":["c","b"],"sort":[{"field":"v"}]},{"calculate":"(((datum.k-1)%11+1)%2?1:-1)*floor(((datum.k-1)%11+1)/2)","as":"o"}],"mark":"circle","encoding":{"x":{"field":"c","type":"nominal","scale":{"type":"point","domain":["l","h"],"padding":0.65},"axis":{"labelExpr":"datum.value=='l'?'low':'high'","title":null}},"xOffset":{"field":"o","type":"quantitative","scale":{"domain":[-1,1],"range":[-3.8,3.8]}},"y":{"field":"v","type":"quantitative","scale":{"domain":[0,4000],"nice":false,"zero":false},"axis":{"title":"normalized gene count","labelOverlap":false,"values":[0,1000,2000,3000,4000]}},"color":{"field":"c","type":"nominal"}}},
     {"data":{"name":"S"},"transform":[{"filter":"datum.g=='TRBC2'"}],"layer":[
      {"mark":{"type":"errorbar","ticks":true,"size":20,"thickness":1.6,"color":"black"},"encoding":{"x":{"field":"c","type":"nominal","axis":null},"y":{"field":"lo","type":"quantitative","axis":null},"y2":{"field":"u"}}},
      {"mark":{"type":"tick","size":32,"thickness":2,"color":"black"},"encoding":{"x":{"field":"c","type":"nominal","axis":null},"y":{"field":"m","type":"quantitative","axis":null}}}]},
     {"data":{"values":[{}]},"mark":{"type":"rule","color":"#555","strokeWidth":1},"encoding":{"x":{"datum":"l","axis":null},"x2":{"datum":"h"},"y":{"datum":3800,"axis":null}}}]},
    {"width":97,"height":145,"title":{"text":"Il2RB","subtitle":"**"},"resolve":{"axis":{"x":"independent","y":"independent"}},"layer":[
     {"data":{"name":"Il2RB"},"transform":[{"bin":{"step":160},"field":"v","as":"b"},{"window":[{"op":"row_number","as":"k"}],"groupby":["c","b"],"sort":[{"field":"v"}]},{"calculate":"(((datum.k-1)%11+1)%2?1:-1)*floor(((datum.k-1)%11+1)/2)","as":"o"}],"mark":"circle","encoding":{"x":{"field":"c","type":"nominal","scale":{"type":"point","domain":["l","h"],"padding":0.65},"axis":{"labelExpr":"datum.value=='l'?'low':'high'","title":null}},"xOffset":{"field":"o","type":"quantitative","scale":{"domain":[-1,1],"range":[-3.8,3.8]}},"y":{"field":"v","type":"quantitative","scale":{"domain":[0,3000,3000.001,6000],"range":[145,31,21,0],"nice":false,"zero":false},"axis":{"title":"normalized gene count","labelOverlap":false,"values":[0,500,1000,1500,2000,2500,3000,3000.001,6000]}},"color":{"field":"c","type":"nominal"}}},
     {"data":{"name":"S"},"transform":[{"filter":"datum.g=='Il2RB'"}],"layer":[
      {"mark":{"type":"errorbar","ticks":true,"size":20,"thickness":1.6,"color":"black"},"encoding":{"x":{"field":"c","type":"nominal","axis":null},"y":{"field":"lo","type":"quantitative","axis":null},"y2":{"field":"u"}}},
      {"mark":{"type":"tick","size":32,"thickness":2,"color":"black"},"encoding":{"x":{"field":"c","type":"nominal","axis":null},"y":{"field":"m","type":"quantitative","axis":null}}}]},
     {"data":{"values":[{}]},"mark":{"type":"rule","color":"#555","strokeWidth":1},"encoding":{"x":{"datum":"l","axis":null},"x2":{"datum":"h"},"y":{"datum":6300,"axis":null}}}]},
    {"width":97,"height":145,"title":{"text":"GZMA","subtitle":"*"},"resolve":{"axis":{"x":"independent","y":"independent"}},"layer":[
     {"data":{"name":"GZMA"},"transform":[{"bin":{"step":100},"field":"v","as":"b"},{"window":[{"op":"row_number","as":"k"}],"groupby":["c","b"],"sort":[{"field":"v"}]},{"calculate":"(((datum.k-1)%11+1)%2?1:-1)*floor(((datum.k-1)%11+1)/2)","as":"o"}],"mark":"circle","encoding":{"x":{"field":"c","type":"nominal","scale":{"type":"point","domain":["l","h"],"padding":0.65},"axis":{"labelExpr":"datum.value=='l'?'low':'high'","title":null}},"xOffset":{"field":"o","type":"quantitative","scale":{"domain":[-1,1],"range":[-3.8,3.8]}},"y":{"field":"v","type":"quantitative","scale":{"domain":[0,2000,2000.001,5000],"range":[145,32,21,0],"nice":false,"zero":false},"axis":{"title":"normalized gene count","labelOverlap":false,"values":[0,500,1000,1500,2000,2000.001,5000]}},"color":{"field":"c","type":"nominal"}}},
     {"data":{"name":"S"},"transform":[{"filter":"datum.g=='GZMA'"}],"layer":[
      {"mark":{"type":"errorbar","ticks":true,"size":20,"thickness":1.6,"color":"black"},"encoding":{"x":{"field":"c","type":"nominal","axis":null},"y":{"field":"lo","type":"quantitative","axis":null},"y2":{"field":"u"}}},
      {"mark":{"type":"tick","size":32,"thickness":2,"color":"black"},"encoding":{"x":{"field":"c","type":"nominal","axis":null},"y":{"field":"m","type":"quantitative","axis":null}}}]},
     {"data":{"values":[{}]},"mark":{"type":"rule","color":"#555","strokeWidth":1},"encoding":{"x":{"datum":"l","axis":null},"x2":{"datum":"h"},"y":{"datum":5900,"axis":null}}}]},
    {"width":97,"height":145,"title":{"text":"GZMB","subtitle":"*"},"resolve":{"axis":{"x":"independent","y":"independent"}},"layer":[
     {"data":{"name":"GZMB"},"transform":[{"bin":{"step":300},"field":"v","as":"b"},{"window":[{"op":"row_number","as":"k"}],"groupby":["c","b"],"sort":[{"field":"v"}]},{"calculate":"(((datum.k-1)%11+1)%2?1:-1)*floor(((datum.k-1)%11+1)/2)","as":"o"}],"mark":"circle","encoding":{"x":{"field":"c","type":"nominal","scale":{"type":"point","domain":["l","h"],"padding":0.65},"axis":{"labelExpr":"datum.value=='l'?'low':'high'","title":null}},"xOffset":{"field":"o","type":"quantitative","scale":{"domain":[-1,1],"range":[-3.8,3.8]}},"y":{"field":"v","type":"quantitative","scale":{"domain":[0,7000],"nice":false,"zero":false},"axis":{"title":"normalized gene count","labelOverlap":false,"values":[0,1000,2000,3000,4000,5000,6000,7000]}},"color":{"field":"c","type":"nominal"}}},
     {"data":{"name":"S"},"transform":[{"filter":"datum.g=='GZMB'"}],"layer":[
      {"mark":{"type":"errorbar","ticks":true,"size":20,"thickness":1.6,"color":"black"},"encoding":{"x":{"field":"c","type":"nominal","axis":null},"y":{"field":"lo","type":"quantitative","axis":null},"y2":{"field":"u"}}},
      {"mark":{"type":"tick","size":32,"thickness":2,"color":"black"},"encoding":{"x":{"field":"c","type":"nominal","axis":null},"y":{"field":"m","type":"quantitative","axis":null}}}]},
     {"data":{"values":[{}]},"mark":{"type":"rule","color":"#555","strokeWidth":1},"encoding":{"x":{"datum":"l","axis":null},"x2":{"datum":"h"},"y":{"datum":6900,"axis":null}}}]},
    {"width":97,"height":145,"title":{"text":"PRF1","subtitle":"****"},"resolve":{"axis":{"x":"independent","y":"independent"}},"layer":[
     {"data":{"name":"PRF1"},"transform":[{"bin":{"step":120},"field":"v","as":"b"},{"window":[{"op":"row_number","as":"k"}],"groupby":["c","b"],"sort":[{"field":"v"}]},{"calculate":"(((datum.k-1)%11+1)%2?1:-1)*floor(((datum.k-1)%11+1)/2)","as":"o"}],"mark":"circle","encoding":{"x":{"field":"c","type":"nominal","scale":{"type":"point","domain":["l","h"],"padding":0.65},"axis":{"labelExpr":"datum.value=='l'?'low':'high'","title":null}},"xOffset":{"field":"o","type":"quantitative","scale":{"domain":[-1,1],"range":[-3.8,3.8]}},"y":{"field":"v","type":"quantitative","scale":{"domain":[0,3000],"nice":false,"zero":false},"axis":{"title":"normalized gene count","labelOverlap":false,"values":[0,500,1000,1500,2000,2500,3000]}},"color":{"field":"c","type":"nominal"}}},
     {"data":{"name":"S"},"transform":[{"filter":"datum.g=='PRF1'"}],"layer":[
      {"mark":{"type":"errorbar","ticks":true,"size":20,"thickness":1.6,"color":"black"},"encoding":{"x":{"field":"c","type":"nominal","axis":null},"y":{"field":"lo","type":"quantitative","axis":null},"y2":{"field":"u"}}},
      {"mark":{"type":"tick","size":32,"thickness":2,"color":"black"},"encoding":{"x":{"field":"c","type":"nominal","axis":null},"y":{"field":"m","type":"quantitative","axis":null}}}]},
     {"data":{"values":[{}]},"mark":{"type":"rule","color":"#555","strokeWidth":1},"encoding":{"x":{"datum":"l","axis":null},"x2":{"datum":"h"},"y":{"datum":3040,"axis":null}}}]}
   ],"spacing":10},
  {"hconcat":[
    {"width":97,"height":145,"title":{"text":"TBX21","subtitle":"***"},"resolve":{"axis":{"x":"independent","y":"independent"}},"layer":[
     {"data":{"name":"TBX21"},"transform":[{"bin":{"step":16},"field":"v","as":"b"},{"window":[{"op":"row_number","as":"k"}],"groupby":["c","b"],"sort":[{"field":"v"}]},{"calculate":"(((datum.k-1)%11+1)%2?1:-1)*floor(((datum.k-1)%11+1)/2)","as":"o"}],"mark":"circle","encoding":{"x":{"field":"c","type":"nominal","scale":{"type":"point","domain":["l","h"],"padding":0.65},"axis":{"labelExpr":"datum.value=='l'?'low':'high'","title":null}},"xOffset":{"field":"o","type":"quantitative","scale":{"domain":[-1,1],"range":[-3.8,3.8]}},"y":{"field":"v","type":"quantitative","scale":{"domain":[0,400],"nice":false,"zero":false},"axis":{"title":"normalized gene count","labelOverlap":false,"values":[0,100,200,300,400]}},"color":{"field":"c","type":"nominal"}}},
     {"data":{"name":"S"},"transform":[{"filter":"datum.g=='TBX21'"}],"layer":[
      {"mark":{"type":"errorbar","ticks":true,"size":20,"thickness":1.6,"color":"black"},"encoding":{"x":{"field":"c","type":"nominal","axis":null},"y":{"field":"lo","type":"quantitative","axis":null},"y2":{"field":"u"}}},
      {"mark":{"type":"tick","size":32,"thickness":2,"color":"black"},"encoding":{"x":{"field":"c","type":"nominal","axis":null},"y":{"field":"m","type":"quantitative","axis":null}}}]},
     {"data":{"values":[{}]},"mark":{"type":"rule","color":"#555","strokeWidth":1},"encoding":{"x":{"datum":"l","axis":null},"x2":{"datum":"h"},"y":{"datum":383,"axis":null}}}]},
    {"width":97,"height":145,"title":{"text":"IFNγ","subtitle":"**"},"resolve":{"axis":{"x":"independent","y":"independent"}},"layer":[
     {"data":{"name":"IFNg"},"transform":[{"bin":{"step":5},"field":"v","as":"b"},{"window":[{"op":"row_number","as":"k"}],"groupby":["c","b"],"sort":[{"field":"v"}]},{"calculate":"(((datum.k-1)%11+1)%2?1:-1)*floor(((datum.k-1)%11+1)/2)","as":"o"}],"mark":"circle","encoding":{"x":{"field":"c","type":"nominal","scale":{"type":"point","domain":["l","h"],"padding":0.65},"axis":{"labelExpr":"datum.value=='l'?'low':'high'","title":null}},"xOffset":{"field":"o","type":"quantitative","scale":{"domain":[-1,1],"range":[-3.8,3.8]}},"y":{"field":"v","type":"quantitative","scale":{"domain":[0,100,100.001,200],"range":[145,38,27,0],"nice":false,"zero":false},"axis":{"title":"normalized gene count","labelOverlap":false,"values":[0,25,50,75,100,100.001,200]}},"color":{"field":"c","type":"nominal"}}},
     {"data":{"name":"S"},"transform":[{"filter":"datum.g=='IFNg'"}],"layer":[
      {"mark":{"type":"errorbar","ticks":true,"size":20,"thickness":1.6,"color":"black"},"encoding":{"x":{"field":"c","type":"nominal","axis":null},"y":{"field":"lo","type":"quantitative","axis":null},"y2":{"field":"u"}}},
      {"mark":{"type":"tick","size":32,"thickness":2,"color":"black"},"encoding":{"x":{"field":"c","type":"nominal","axis":null},"y":{"field":"m","type":"quantitative","axis":null}}}]},
     {"data":{"values":[{}]},"mark":{"type":"rule","color":"#555","strokeWidth":1},"encoding":{"x":{"datum":"l","axis":null},"x2":{"datum":"h"},"y":{"datum":212,"axis":null}}}]},
    {"width":97,"height":145,"title":{"text":"TNFα","subtitle":" "},"resolve":{"axis":{"x":"independent","y":"independent"}},"layer":[
     {"data":{"name":"TNFa"},"transform":[{"bin":{"step":16},"field":"v","as":"b"},{"window":[{"op":"row_number","as":"k"}],"groupby":["c","b"],"sort":[{"field":"v"}]},{"calculate":"(((datum.k-1)%11+1)%2?1:-1)*floor(((datum.k-1)%11+1)/2)","as":"o"}],"mark":"circle","encoding":{"x":{"field":"c","type":"nominal","scale":{"type":"point","domain":["l","h"],"padding":0.65},"axis":{"labelExpr":"datum.value=='l'?'low':'high'","title":null}},"xOffset":{"field":"o","type":"quantitative","scale":{"domain":[-1,1],"range":[-3.8,3.8]}},"y":{"field":"v","type":"quantitative","scale":{"domain":[0,300,300.001,600],"range":[145,32,21,0],"nice":false,"zero":false},"axis":{"title":"normalized gene count","labelOverlap":false,"values":[0,50,100,150,200,250,300,300.001,600]}},"color":{"field":"c","type":"nominal"}}},
     {"data":{"name":"S"},"transform":[{"filter":"datum.g=='TNFa'"}],"layer":[
      {"mark":{"type":"errorbar","ticks":true,"size":20,"thickness":1.6,"color":"black"},"encoding":{"x":{"field":"c","type":"nominal","axis":null},"y":{"field":"lo","type":"quantitative","axis":null},"y2":{"field":"u"}}},
      {"mark":{"type":"tick","size":32,"thickness":2,"color":"black"},"encoding":{"x":{"field":"c","type":"nominal","axis":null},"y":{"field":"m","type":"quantitative","axis":null}}}]}]},
    {"width":97,"height":145,"title":{"text":"CXCL9","subtitle":"**"},"resolve":{"axis":{"x":"independent","y":"independent"}},"layer":[
     {"data":{"name":"CXCL9"},"transform":[{"bin":{"step":800},"field":"v","as":"b"},{"window":[{"op":"row_number","as":"k"}],"groupby":["c","b"],"sort":[{"field":"v"}]},{"calculate":"(((datum.k-1)%11+1)%2?1:-1)*floor(((datum.k-1)%11+1)/2)","as":"o"}],"mark":"circle","encoding":{"x":{"field":"c","type":"nominal","scale":{"type":"point","domain":["l","h"],"padding":0.65},"axis":{"labelExpr":"datum.value=='l'?'low':'high'","title":null}},"xOffset":{"field":"o","type":"quantitative","scale":{"domain":[-1,1],"range":[-3.8,3.8]}},"y":{"field":"v","type":"quantitative","scale":{"domain":[0,20000],"nice":false,"zero":false},"axis":{"title":"normalized gene count","labelOverlap":false,"values":[0,5000,10000,15000,20000]}},"color":{"field":"c","type":"nominal"}}},
     {"data":{"name":"S"},"transform":[{"filter":"datum.g=='CXCL9'"}],"layer":[
      {"mark":{"type":"errorbar","ticks":true,"size":20,"thickness":1.6,"color":"black"},"encoding":{"x":{"field":"c","type":"nominal","axis":null},"y":{"field":"lo","type":"quantitative","axis":null},"y2":{"field":"u"}}},
      {"mark":{"type":"tick","size":32,"thickness":2,"color":"black"},"encoding":{"x":{"field":"c","type":"nominal","axis":null},"y":{"field":"m","type":"quantitative","axis":null}}}]},
     {"data":{"values":[{}]},"mark":{"type":"rule","color":"#555","strokeWidth":1},"encoding":{"x":{"datum":"l","axis":null},"x2":{"datum":"h"},"y":{"datum":19600,"axis":null}}}]},
    {"width":97,"height":145,"title":{"text":"PD-1","subtitle":"***"},"resolve":{"axis":{"x":"independent","y":"independent"}},"layer":[
     {"data":{"name":"PD1"},"transform":[{"bin":{"step":40},"field":"v","as":"b"},{"window":[{"op":"row_number","as":"k"}],"groupby":["c","b"],"sort":[{"field":"v"}]},{"calculate":"(((datum.k-1)%11+1)%2?1:-1)*floor(((datum.k-1)%11+1)/2)","as":"o"}],"mark":"circle","encoding":{"x":{"field":"c","type":"nominal","scale":{"type":"point","domain":["l","h"],"padding":0.65},"axis":{"labelExpr":"datum.value=='l'?'low':'high'","title":null}},"xOffset":{"field":"o","type":"quantitative","scale":{"domain":[-1,1],"range":[-3.8,3.8]}},"y":{"field":"v","type":"quantitative","scale":{"domain":[0,1000],"nice":false,"zero":false},"axis":{"title":"normalized gene count","labelOverlap":false,"values":[0,200,400,600,800,1000]}},"color":{"field":"c","type":"nominal"}}},
     {"data":{"name":"S"},"transform":[{"filter":"datum.g=='PD1'"}],"layer":[
      {"mark":{"type":"errorbar","ticks":true,"size":20,"thickness":1.6,"color":"black"},"encoding":{"x":{"field":"c","type":"nominal","axis":null},"y":{"field":"lo","type":"quantitative","axis":null},"y2":{"field":"u"}}},
      {"mark":{"type":"tick","size":32,"thickness":2,"color":"black"},"encoding":{"x":{"field":"c","type":"nominal","axis":null},"y":{"field":"m","type":"quantitative","axis":null}}}]},
     {"data":{"values":[{}]},"mark":{"type":"rule","color":"#555","strokeWidth":1},"encoding":{"x":{"datum":"l","axis":null},"x2":{"datum":"h"},"y":{"datum":1028,"axis":null}}}]}
   ],"spacing":10}
 ],"spacing":48}
]
}
